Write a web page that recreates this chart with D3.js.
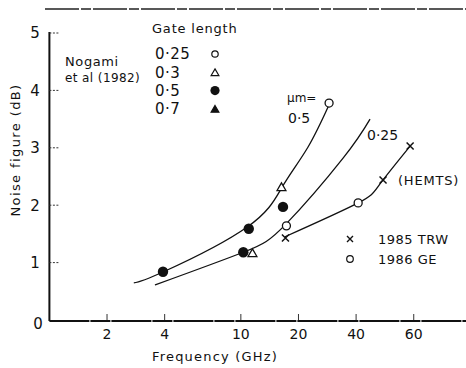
<!DOCTYPE html>
<html>
<head>
<meta charset="utf-8">
<script src="https://cdn.jsdelivr.net/npm/d3@7"></script>
<style>
  body { margin: 0; background: #fff; }
  svg { display: block; }
  text { font-family: "DejaVu Sans", sans-serif; fill: #111; }
</style>
</head>
<body>
<svg id="chart" width="466" height="368"></svg>
<script>
// tick values (GHz) and the labels printed under them
// (the original puts its "60" label where 80 falls on the log axis)
const xTickValues = [2, 4, 10, 20, 40, 80];
const xTickLabels = ["2", "4", "10", "20", "40", "60"];
const yTicks = [0, 1, 2, 3, 4, 5];

// Nogami et al (1982) points: [frequency GHz, noise figure dB]
const gate025 = [[28.9, 3.78], [17.3, 1.64]];
const gate03 = [[16.3, 2.30], [11.5, 1.15]];
const gate05 = [[3.92, 0.84], [10.3, 1.18], [11.0, 1.59], [16.6, 1.97]];
const gate07 = [];

// HEMT points
const trw1985 = [[17.1, 1.43], [55.3, 2.44], [76.6, 3.03]];
const ge1986 = [[41.0, 2.04]];

// fitted curves
const curve05 = [[2.76, 0.645], [3.92, 0.836], [10.8, 1.62], [16.6, 2.34], [22.4, 3.01], [28.9, 3.75]];
const curve025 = [[3.56, 0.61], [10.3, 1.18], [17.2, 1.67], [34.2, 2.82], [47.3, 3.50]];
const curveHemt = [[17.0, 1.45], [41.0, 2.04], [53.3, 2.37], [76.6, 3.03]];

const svg = d3.select("#chart");

const x = d3.scaleLog().domain([1, 150]).range([49.4, 466]);
const y = d3.scaleLinear().domain([0, 5]).range([320, 33]);

// top frame line (dashed in the scan)
svg.append("line")
    .attr("x1", 45).attr("x2", 466).attr("y1", 9).attr("y2", 9)
    .attr("stroke", "#222").attr("stroke-width", 1.3)
    .attr("stroke-dasharray", "34,2,10,2");

// axes lines
svg.append("line")
    .attr("x1", x(1)).attr("x2", x(1)).attr("y1", y(5) - 1).attr("y2", y(0) + 1)
    .attr("stroke", "#111").attr("stroke-width", 2);
svg.append("line")
    .attr("x1", x(1)).attr("x2", 466).attr("y1", y(0) + 1).attr("y2", y(0) + 1)
    .attr("stroke", "#111").attr("stroke-width", 2)
    .attr("stroke-dasharray", "40,1,20,1");

// y ticks
svg.selectAll(".ytick")
    .data(yTicks.filter(d => d > 0))
    .enter().append("line")
    .attr("x1", x(1)).attr("x2", x(1) + 9)
    .attr("y1", d => y(d)).attr("y2", d => y(d))
    .attr("stroke", "#333").attr("stroke-width", 1)
    .attr("stroke-dasharray", "2,1.5");

svg.selectAll(".ylab")
    .data(yTicks)
    .enter().append("text")
    .attr("x", d => d === 0 ? 38 : 35)
    .attr("y", d => d === 0 ? y(d) + 4 : y(d))
    .attr("dy", "0.36em")
    .attr("text-anchor", "middle")
    .style("font-size", "15px")
    .text(d => d);

// x ticks
svg.selectAll(".xtick")
    .data(xTickValues)
    .enter().append("line")
    .attr("x1", d => x(d)).attr("x2", d => x(d))
    .attr("y1", y(0)).attr("y2", y(0) - 6)
    .attr("stroke", "#333").attr("stroke-width", 1);

svg.selectAll(".xlab")
    .data(xTickValues)
    .enter().append("text")
    .attr("x", d => x(d))
    .attr("y", 334)
    .attr("dy", "0.36em")
    .attr("text-anchor", "middle")
    .style("font-size", "14px")
    .text((d, i) => xTickLabels[i]);

// axis titles
svg.append("text")
    .attr("x", 215).attr("y", 356).attr("dy", "0.36em")
    .attr("text-anchor", "middle")
    .style("font-size", "13px").style("letter-spacing", "1.2px")
    .text("Frequency (GHz)");

svg.append("text")
    .attr("transform", "translate(15,150) rotate(-90)")
    .attr("dy", "0.36em")
    .attr("text-anchor", "middle")
    .style("font-size", "13px").style("letter-spacing", "1.4px")
    .text("Noise figure (dB)");

// curves
const line = d3.line()
    .x(d => x(d[0]))
    .y(d => y(d[1]))
    .curve(d3.curveNatural);

[curve05, curve025, curveHemt].forEach(c => {
    svg.append("path")
        .attr("d", line(c))
        .attr("fill", "none")
        .attr("stroke", "#111")
        .attr("stroke-width", 1.3);
});

// markers
const tri = d3.symbol().type(d3.symbolTriangle).size(34);

function openCircles(data) {
    svg.selectAll(null).data(data).enter().append("circle")
        .attr("cx", d => x(d[0])).attr("cy", d => y(d[1])).attr("r", 4)
        .attr("fill", "#fff").attr("stroke", "#111").attr("stroke-width", 1.3);
}
function filledCircles(data) {
    svg.selectAll(null).data(data).enter().append("circle")
        .attr("cx", d => x(d[0])).attr("cy", d => y(d[1])).attr("r", 5.2)
        .attr("fill", "#111");
}
function triangles(data, filled) {
    svg.selectAll(null).data(data).enter().append("path")
        .attr("d", tri)
        .attr("transform", d => "translate(" + x(d[0]) + "," + y(d[1]) + ")")
        .attr("fill", filled ? "#111" : "#fff")
        .attr("stroke", "#111").attr("stroke-width", 1.3);
}
function crosses(data) {
    svg.selectAll(null).data(data).enter().append("path")
        .attr("d", "M-3.5,-3.5L3.5,3.5M3.5,-3.5L-3.5,3.5")
        .attr("transform", d => "translate(" + x(d[0]) + "," + y(d[1]) + ")")
        .attr("stroke", "#111").attr("stroke-width", 1.5);
}

openCircles(gate025);
openCircles(ge1986);
triangles(gate03, false);
triangles(gate07, true);
filledCircles(gate05);
crosses(trw1985);

// legend
svg.append("text").attr("x", 152).attr("y", 28).attr("dy", "0.36em")
    .style("font-size", "13px").style("letter-spacing", "0.8px").text("Gate length");
svg.append("text").attr("x", 65).attr("y", 61).attr("dy", "0.36em")
    .style("font-size", "13px").style("letter-spacing", "0.6px").text("Nogami");
svg.append("text").attr("x", 65).attr("y", 78).attr("dy", "0.36em")
    .style("font-size", "12px").style("letter-spacing", "0.4px").text("et al (1982)");

const legendItems = [
    { label: "0·25", kind: "open" },
    { label: "0·3", kind: "tri" },
    { label: "0·5", kind: "filled" },
    { label: "0·7", kind: "ftri" }
];
legendItems.forEach((item, i) => {
    const ly = 54 + i * 18.3;
    svg.append("text").attr("x", 155).attr("y", ly).attr("dy", "0.36em")
        .style("font-size", "15px").style("letter-spacing", "0.5px").text(item.label);
    if (item.kind === "open") {
        svg.append("circle").attr("cx", 215).attr("cy", ly).attr("r", 3.2)
            .attr("fill", "#fff").attr("stroke", "#111").attr("stroke-width", 1.2);
    } else if (item.kind === "filled") {
        svg.append("circle").attr("cx", 215).attr("cy", ly).attr("r", 4.6).attr("fill", "#111");
    } else {
        svg.append("path").attr("d", d3.symbol().type(d3.symbolTriangle).size(26))
            .attr("transform", "translate(215," + (ly + 1) + ")")
            .attr("fill", item.kind === "ftri" ? "#111" : "#fff")
            .attr("stroke", "#111").attr("stroke-width", 1.2);
    }
});

// curve annotations
svg.append("text").attr("x", 287).attr("y", 98).attr("dy", "0.36em")
    .style("font-size", "12px").text("μm=");
svg.append("text").attr("x", 288).attr("y", 118).attr("dy", "0.36em")
    .style("font-size", "14px").text("0·5");
svg.append("text").attr("x", 367).attr("y", 135).attr("dy", "0.36em")
    .style("font-size", "14px").text("0·25");
svg.append("text").attr("x", 398).attr("y", 180).attr("dy", "0.36em")
    .style("font-size", "13px").style("letter-spacing", "0.8px").text("(HEMTS)");

// HEMT legend
svg.append("path").attr("d", "M-3,-3L3,3M3,-3L-3,3")
    .attr("transform", "translate(350,239)")
    .attr("stroke", "#111").attr("stroke-width", 1.4);
svg.append("text").attr("x", 378).attr("y", 239).attr("dy", "0.36em")
    .style("font-size", "13px").style("letter-spacing", "0.5px").text("1985 TRW");
svg.append("circle").attr("cx", 350).attr("cy", 259).attr("r", 3.3)
    .attr("fill", "#fff").attr("stroke", "#111").attr("stroke-width", 1.2);
svg.append("text").attr("x", 378).attr("y", 259).attr("dy", "0.36em")
    .style("font-size", "13px").style("letter-spacing", "0.5px").text("1986 GE");
</script>
</body>
</html>
